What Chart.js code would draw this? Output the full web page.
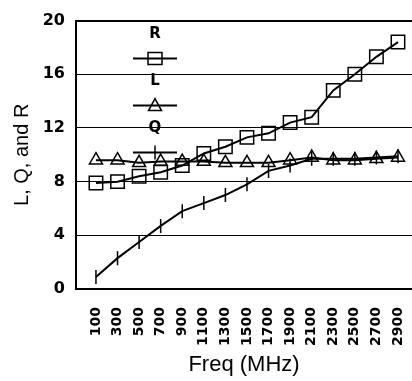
<!DOCTYPE html>
<html>
<head>
<meta charset="utf-8">
<script src="https://cdn.jsdelivr.net/npm/chart.js@4/dist/chart.umd.min.js"></script>
<style>
  html, body { margin: 0; padding: 0; background: #fff; }
  #wrap { width: 412px; height: 381px; }
</style>
</head>
<body>
<div id="wrap"><canvas id="chart_lqr" width="412" height="381"></canvas></div>
<script>
// categories and series
var freqs = [100, 300, 500, 700, 900, 1100, 1300, 1500, 1700, 1900, 2100, 2300, 2500, 2700, 2900];
var r_vals = [7.9, 8.0, 8.4, 8.7, 9.2, 10.1, 10.6, 11.3, 11.6, 12.4, 12.8, 14.8, 16.0, 17.3, 18.4];
var l_vals = [9.6, 9.6, 9.4, 9.5, 9.5, 9.5, 9.4, 9.4, 9.4, 9.6, 9.8, 9.6, 9.6, 9.7, 9.8];
var q_vals = [0.9, 2.3, 3.5, 4.7, 5.8, 6.4, 7.0, 7.8, 8.8, 9.2, 9.7, 9.7, 9.7, 9.8, 9.9];
var y_ticks = [0, 4, 8, 12, 16, 20];

var sans = "'Liberation Sans', Arial, sans-serif";
var wide = "'DejaVu Sans', sans-serif";

// pair each freq with its value
function toPoints(vals) {
  return freqs.map((f, i) => ({ x: f, y: vals[i] }));
}

// legend drawn inside the plot, stacked: name, then line + marker
const insideLegend = {
  id: "insideLegend",
  afterDraw(chart) {
    const ctx = chart.ctx;
    const area = chart.chartArea;
    const cx = area.left + 79;
    const half = 22;
    let y = area.top + 14;
    ctx.save();
    chart.data.datasets.forEach((ds) => {
      ctx.fillStyle = "#000";
      ctx.font = "bold 15px " + wide;
      ctx.textAlign = "center";
      ctx.textBaseline = "middle";
      ctx.fillText(ds.label, cx, y);
      const ly = y + 24;
      ctx.strokeStyle = "#000";
      ctx.lineWidth = 2;
      ctx.beginPath();
      ctx.moveTo(cx - half, ly);
      ctx.lineTo(cx + half, ly);
      ctx.stroke();
      ctx.lineWidth = 1.5;
      ctx.beginPath();
      if (ds.pointStyle === "rect") {
        ctx.rect(cx - 7, ly - 6, 14, 12);
      } else if (ds.pointStyle === "triangle") {
        ctx.moveTo(cx, ly - 7);
        ctx.lineTo(cx + 6.5, ly + 5);
        ctx.lineTo(cx - 6.5, ly + 5);
        ctx.closePath();
      } else {
        ctx.moveTo(cx, ly - 7);
        ctx.lineTo(cx, ly + 7);
      }
      ctx.stroke();
      y += 47;
    });
    ctx.restore();
  },
};

const ctx = document.getElementById("chart_lqr").getContext("2d");

new Chart(ctx, {
  type: "line",
  data: {
    datasets: [
      {
        label: "R",
        data: toPoints(r_vals),
        borderColor: "#000",
        borderWidth: 2,
        pointStyle: "rect",
        pointRadius: 9.5,
        pointBorderWidth: 1.5,
        pointBorderColor: "#000",
        pointBackgroundColor: "rgba(0,0,0,0)",
        tension: 0,
      },
      {
        label: "L",
        data: toPoints(l_vals),
        borderColor: "#000",
        borderWidth: 2,
        pointStyle: "triangle",
        pointRadius: 7.5,
        pointBorderWidth: 1.5,
        pointBorderColor: "#000",
        pointBackgroundColor: "rgba(0,0,0,0)",
        tension: 0,
      },
      {
        label: "Q",
        data: toPoints(q_vals),
        borderColor: "#000",
        borderWidth: 2,
        pointStyle: "line",
        pointRotation: 90,
        pointRadius: 7,
        pointBorderWidth: 1.5,
        pointBorderColor: "#000",
        tension: 0,
      },
    ],
  },
  options: {
    responsive: false,
    animation: false,
    layout: { autoPadding: false, padding: { left: 0, top: 14, right: 0, bottom: 0 } },
    plugins: {
      legend: { display: false },
      tooltip: { enabled: false },
    },
    scales: {
      x: {
        type: "linear",
        min: -85,
        max: 3030,
        afterBuildTicks: (s) => { s.ticks = freqs.map((v) => ({ value: v })); },
        grid: { display: false },
        border: { display: true, color: "#000", width: 2 },
        ticks: {
          minRotation: 90,
          maxRotation: 90,
          autoSkip: false,
          padding: 10,
          color: "#000",
          font: { family: wide, size: 14, weight: "bold" },
          callback: (v) => String(v),
        },
        title: {
          display: true,
          text: "Freq (MHz)",
          color: "#000",
          padding: { top: 4, bottom: 3 },
          font: { family: sans, size: 22 },
        },
        afterFit: (s) => {
          s.height = 92;
          s.paddingLeft = 0;
          s.paddingRight = 0;
        },
      },
      y: {
        min: 0,
        max: 20,
        afterBuildTicks: (s) => { s.ticks = y_ticks.map((v) => ({ value: v })); },
        grid: { color: "#000", lineWidth: (c) => (c.tick && c.tick.value === 20 ? 2 : 1), drawTicks: false },
        border: { display: true, color: "#000", width: 2 },
        ticks: {
          padding: 11,
          color: "#000",
          font: { family: wide, size: 16, weight: "bold" },
        },
        title: {
          display: true,
          text: "L, Q, and R",
          color: "#000",
          padding: { top: 10, bottom: 0 },
          font: { family: sans, size: 20 },
        },
        afterFit: (s) => { s.width = 76; },
      },
    },
  },
  plugins: [insideLegend],
});
</script>
</body>
</html>
